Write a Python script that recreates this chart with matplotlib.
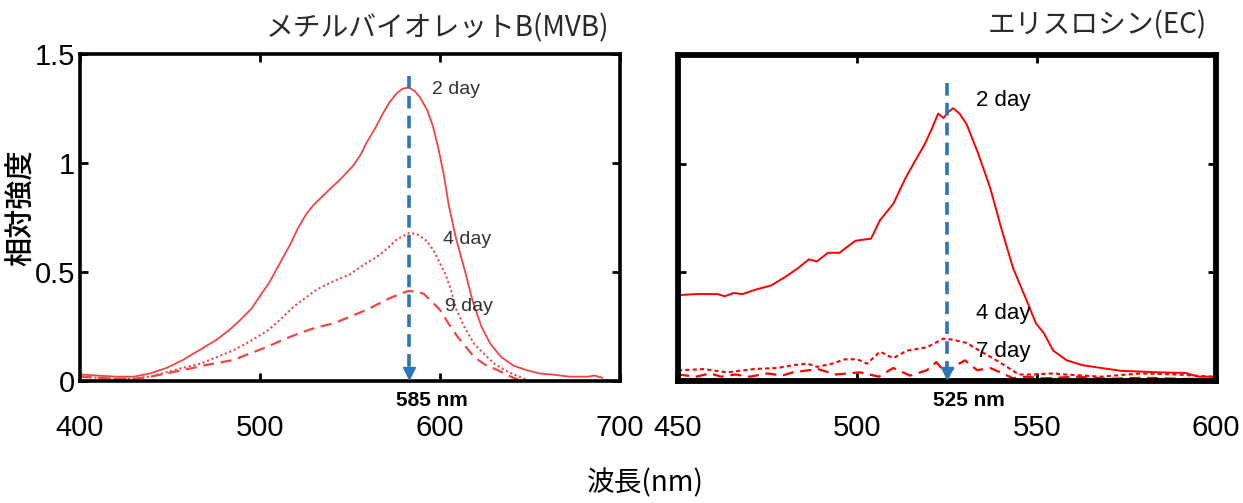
import numpy as np
import matplotlib
matplotlib.use('Agg')
import matplotlib.pyplot as plt

plt.rcParams['font.family'] = ['Liberation Sans Narrow', 'Liberation Sans', 'DejaVu Sans']

# --- メチルバイオレットB (MVB) ---
mvb_x2 = [400, 410, 420, 430, 439, 448, 457, 466, 476, 483, 489, 495, 500, 505, 509, 513, 517,
          521, 526, 530, 535, 540, 544, 548, 552, 556, 559, 564, 568.5, 572, 576, 579, 582.4,
          586, 589, 593, 596, 599, 602, 605, 609, 614, 618, 623, 628, 634, 641, 648, 655, 662,
          672, 682, 686, 690]
mvb_y2 = [0.03, 0.025, 0.02, 0.02, 0.035, 0.06, 0.096, 0.14, 0.19, 0.235, 0.28, 0.33, 0.39,
          0.45, 0.51, 0.57, 0.63, 0.70, 0.77, 0.81, 0.85, 0.89, 0.92, 0.955, 0.99, 1.04, 1.09,
          1.16, 1.23, 1.28, 1.32, 1.34, 1.347, 1.33, 1.30, 1.24, 1.17, 1.07, 0.95, 0.80, 0.65,
          0.50, 0.37, 0.25, 0.17, 0.11, 0.07, 0.05, 0.035, 0.03, 0.02, 0.02, 0.025, 0.015]
mvb_x4 = [400, 410, 420, 430, 439, 448, 457, 467, 476, 485, 494, 504, 511, 518.5, 525, 531.5,
          540, 550, 557, 565, 571, 576, 583, 588, 593, 597, 600, 603, 606, 609, 614, 619, 625,
          630, 636, 641, 650]
mvb_y4 = [0.02, 0.015, 0.01, 0.01, 0.02, 0.04, 0.06, 0.08, 0.11, 0.14, 0.18, 0.23, 0.28, 0.34,
          0.38, 0.42, 0.455, 0.49, 0.53, 0.57, 0.61, 0.65, 0.68, 0.67, 0.64, 0.59, 0.54, 0.49,
          0.42, 0.33, 0.24, 0.17, 0.12, 0.08, 0.05, 0.03, 0.0]
mvb_x9 = [400, 410, 420, 430, 439, 448, 457, 471, 485, 494, 504, 513, 522, 531, 541, 550, 559,
          566, 572, 578, 582.4, 587, 591, 596, 600, 605, 610, 614, 619, 625, 632, 638, 645]
mvb_y9 = [0.02, 0.015, 0.01, 0.01, 0.02, 0.035, 0.05, 0.075, 0.096, 0.125, 0.157, 0.19, 0.22,
          0.245, 0.265, 0.295, 0.326, 0.355, 0.38, 0.40, 0.413, 0.41, 0.40, 0.36, 0.326, 0.26,
          0.20, 0.16, 0.11, 0.075, 0.05, 0.025, 0.0]

# --- エリスロシン (EC) ---
ec_x2 = [450, 455, 461, 463, 465.5, 468, 471.5, 476, 480, 483.5, 486.5, 488.7, 491.8, 495,
         499.4, 503.8, 506.3, 510, 513.3, 516, 518.8, 521, 522.5, 524, 525.5, 526.7, 528.5,
         530.5, 533.6, 537, 540, 543.4, 546.7, 549.8, 552, 554.6, 558.4, 562.7, 568, 573.5,
         584, 591.6, 595, 600]
ec_y2 = [0.395, 0.40, 0.40, 0.39, 0.405, 0.40, 0.42, 0.44, 0.48, 0.52, 0.56, 0.55, 0.59, 0.59,
         0.645, 0.655, 0.74, 0.815, 0.93, 1.01, 1.09, 1.17, 1.23, 1.21, 1.24, 1.255, 1.23,
         1.18, 1.05, 0.89, 0.71, 0.52, 0.39, 0.265, 0.22, 0.14, 0.095, 0.073, 0.06, 0.047,
         0.04, 0.037, 0.02, 0.02]
ec_x4 = [450, 451.4, 457, 463.7, 471, 477.6, 482, 486, 488.8, 493, 496.5, 500, 502.7, 506.3,
         510, 513.8, 519.4, 524, 526.7, 530.5, 534, 537.8, 541.7, 545, 549, 554.5, 558, 568,
         579, 589, 599, 600]
ec_y4 = [0.05, 0.05, 0.055, 0.04, 0.055, 0.06, 0.073, 0.08, 0.065, 0.08, 0.10, 0.10, 0.08,
         0.135, 0.105, 0.14, 0.155, 0.195, 0.19, 0.175, 0.14, 0.105, 0.065, 0.03, 0.03, 0.035,
         0.03, 0.02, 0.035, 0.03, 0.02, 0.02]
ec_x7 = [450, 455, 459, 462, 466, 470, 475, 479, 482, 489, 494, 500.7, 506, 510, 514.7, 519.4,
         522, 525, 527.8, 530, 533.4, 537, 540.6, 543.4, 547, 551.8, 561, 570, 580, 590, 600]
ec_y7 = [0.03, 0.02, 0.035, 0.02, 0.03, 0.02, 0.035, 0.025, 0.04, 0.055, 0.03, 0.04, 0.02,
         0.06, 0.025, 0.05, 0.087, 0.03, 0.075, 0.095, 0.05, 0.06, 0.035, 0.012, 0.02, 0.012,
         0.02, 0.01, 0.015, 0.01, 0.01]

mvb_peak = 583
ec_peak = 525

fig = plt.figure(figsize=(12.43, 5.03), dpi=100)
ax1 = fig.add_axes([0.0644, 0.2425, 0.4344, 0.6501])
ax2 = fig.add_axes([0.5455, 0.2425, 0.4328, 0.6482])

red_l = '#f24545'
red_r = '#ff0000'
blue = '#2e75b6'

ax1.plot(mvb_x2, mvb_y2, color=red_l, lw=1.3)
ax1.plot(mvb_x4, mvb_y4, color=red_l, lw=1.5, ls=(0, (1, 1.3)))
ax1.plot(mvb_x9, mvb_y9, color=red_l, lw=1.6, ls=(0, (5, 3)))

ax2.plot(ec_x2, ec_y2, color=red_r, lw=1.4)
ax2.plot(ec_x4, ec_y4, color=red_r, lw=1.5, ls=(0, (2, 1.5)))
ax2.plot(ec_x7, ec_y7, color=red_r, lw=1.6, ls=(0, (5, 3)))


def peak_arrow(ax, x, top, lab):
    ax.plot([x, x], [top, 0.05], color=blue, lw=2.6, ls=(0, (3.5, 2)), zorder=4)
    ax.plot([x], [0.035], marker='v', ms=9, color=blue, zorder=5)
    ax.annotate(lab, xy=(x, 0), xycoords=('data', 'axes fraction'),
                xytext=(16, -14), textcoords='offset points', ha='center', va='center',
                fontsize=15, fontweight='bold', annotation_clip=False)


peak_arrow(ax1, mvb_peak, 1.40, '585 nm')
peak_arrow(ax2, ec_peak, 1.37, '525 nm')

for t, x, y in [('2 day', 595.5, 1.335), ('4 day', 601.7, 0.647), ('9 day', 602.8, 0.34)]:
    ax1.text(x, y, t, fontsize=14, color='#333333', va='center',
             family=['Liberation Sans', 'DejaVu Sans'], zorder=6)
for t, x, y in [('2 day', 533, 1.29), ('4 day', 533, 0.31), ('7 day', 533, 0.135)]:
    ax2.text(x, y, t, fontsize=16, color='black', va='center', zorder=6)

ax1.set_xlim(400, 700)
ax1.set_ylim(0, 1.5)
ax1.set_xticks([400, 500, 600, 700])
ax1.set_yticks([0, 0.5, 1, 1.5])
ax1.set_yticklabels(['0', '0.5', '1', '1.5'])

ax2.set_xlim(450, 600)
ax2.set_ylim(0, 1.5)
ax2.set_xticks([450, 500, 550, 600])
ax2.set_yticks([0, 0.5, 1, 1.5])
ax2.set_yticklabels([])

for ax, w in [(ax1, 2.6), (ax2, 4.2)]:
    ax.tick_params(direction='in', top=True, right=True, length=6, width=2,
                   labelsize=21)
    ax.tick_params(axis='x', pad=24)
    for s in ax.spines.values():
        s.set_linewidth(w)

ax1.set_ylabel('相対強度', family=['Noto Sans CJK JP'], fontsize=21,
               fontweight='medium')
ax1.yaxis.set_label_coords(-0.08, 0.53)

jp = ['Noto Sans CJK JP', 'DejaVu Sans']
fig.text(0.352, 0.944, 'メチルバイオレットB(MVB)', family=jp, fontsize=20,
         color='#2a2a2a', ha='center', va='center')
fig.text(0.883, 0.950, 'エリスロシン(EC)', family=jp, fontsize=20,
         color='#2a2a2a', ha='center', va='center')
fig.text(0.519, 0.040, '波長(nm)', family=jp, fontsize=20, ha='center', va='center')

fig.savefig('out.png', dpi=100)
